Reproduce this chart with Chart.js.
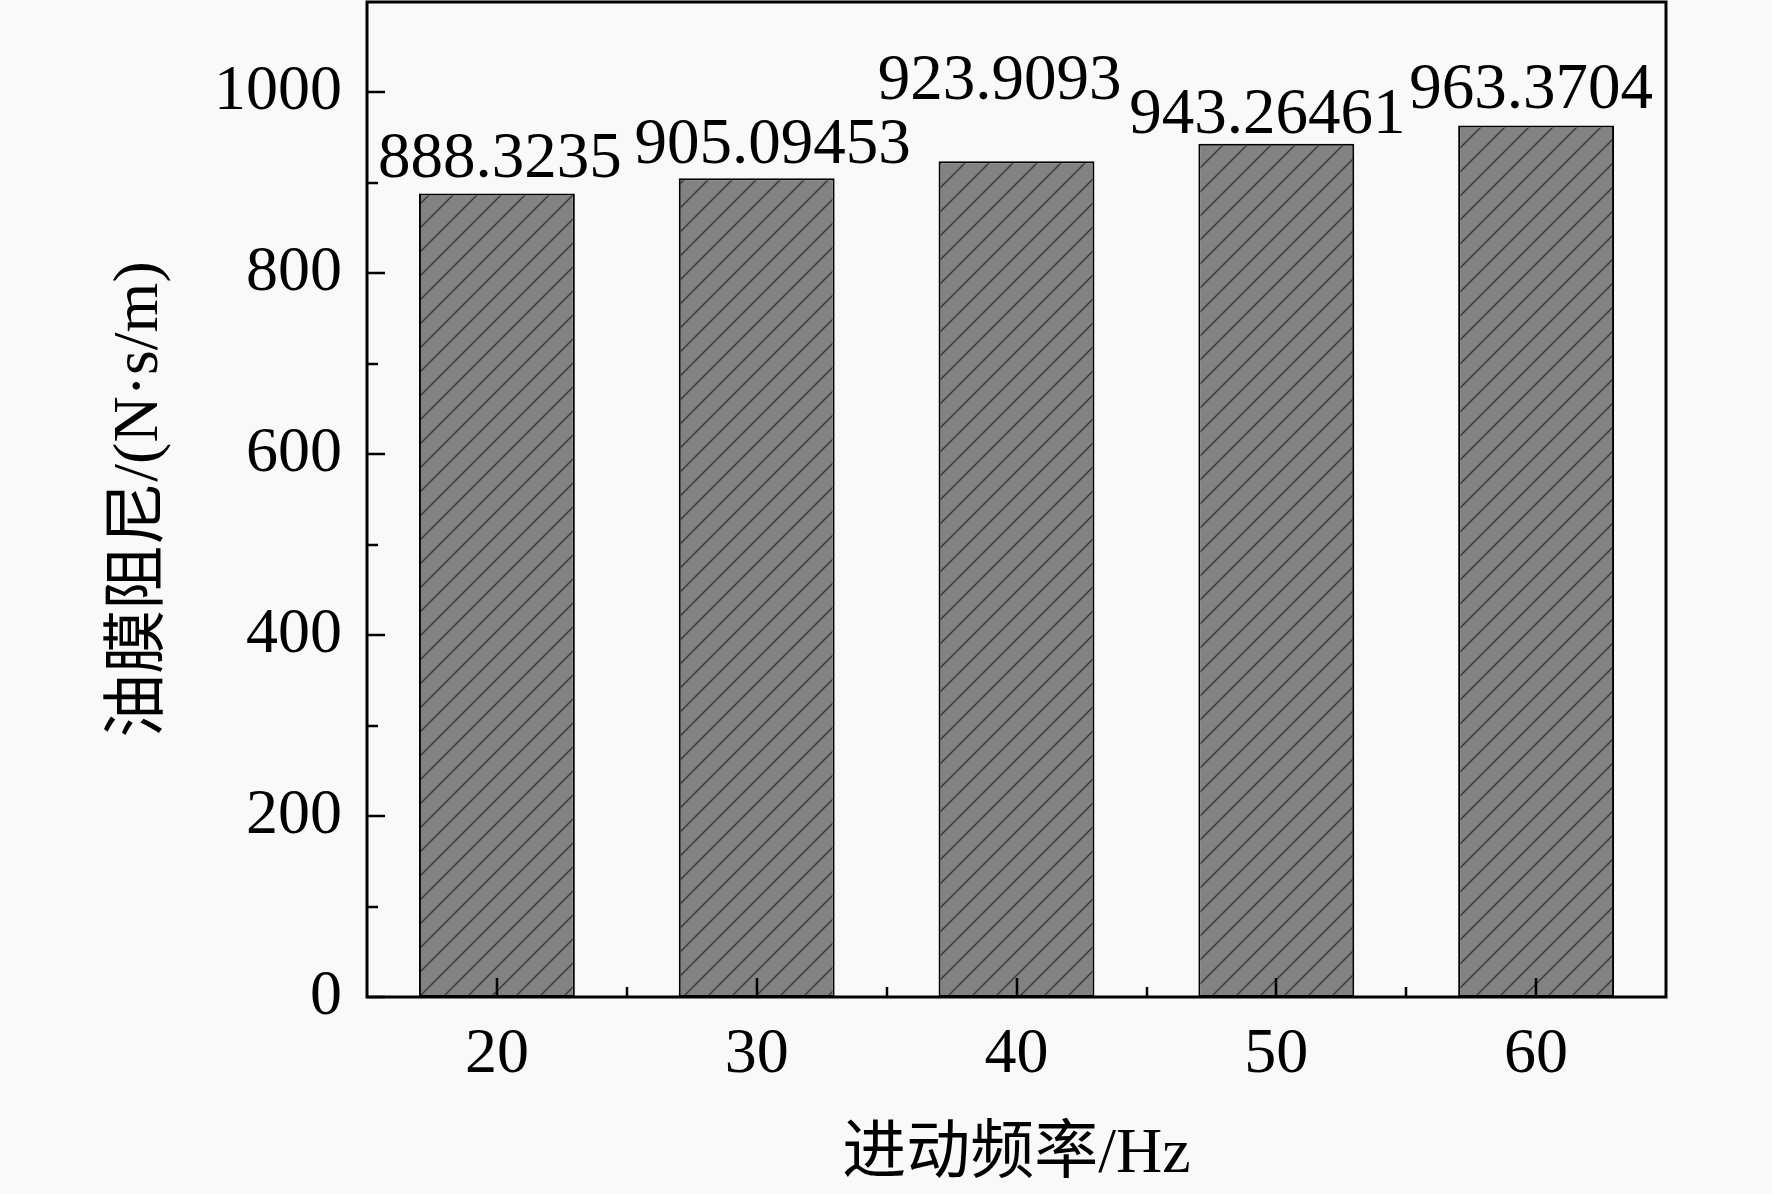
<!DOCTYPE html>
<html>
<head>
<meta charset="utf-8">
<script src="https://cdn.jsdelivr.net/npm/chart.js@4.4.1/dist/chart.umd.min.js"></script>
<style>
  html, body { margin: 0; padding: 0; background: #f9f9f9; }
  #wrap { width: 1772px; height: 1194px; }
</style>
</head>
<body>
<div id="wrap"><canvas id="myChart" width="1772" height="1194"></canvas></div>
<script>
(() => {
  'use strict'

  // Data
  const frequencies = ['20', '30', '40', '50', '60']
  const damping = [888.3235, 905.09453, 923.9093, 943.26461, 963.3704]
  const dampingLabels = ['888.3235', '905.09453', '923.9093', '943.26461', '963.3704']
  const yTicks = [0, 200, 400, 600, 800, 1000]

  // hand placed value labels in the original: [dx, gap above bar] in px
  const labelNudge = [[3, 16], [16, 15], [-17, 62], [-9, 11], [-5, 18]]

  const FONT = "'Liberation Serif', 'Noto Sans CJK SC', serif"

  // hatch fill for bars
  const tile = document.createElement('canvas')
  tile.width = 24
  tile.height = 24
  const tc = tile.getContext('2d')
  tc.fillStyle = '#828282'
  tc.fillRect(0, 0, 24, 24)
  tc.strokeStyle = '#363636'
  tc.lineWidth = 1.4
  tc.beginPath()
  tc.moveTo(-2, 26); tc.lineTo(26, -2)
  tc.moveTo(-14, 14); tc.lineTo(14, -14)
  tc.moveTo(10, 38); tc.lineTo(38, 10)
  tc.stroke()
  const hatch = document.getElementById('myChart').getContext('2d').createPattern(tile, 'repeat')

  const frameAndTicks = {
    id: 'frameAndTicks',
    afterDatasetsDraw (chart) {
      const { ctx, chartArea: a, scales: { x, y } } = chart
      ctx.save()
      ctx.strokeStyle = '#000'

      // y ticks, inward
      ctx.lineWidth = 2.5
      ctx.beginPath()
      yTicks.forEach((v, i) => {
        const py = Math.round(y.getPixelForValue(v))
        ctx.moveTo(a.left, py); ctx.lineTo(a.left + 18, py)
        const next = i < yTicks.length - 1 ? yTicks[i + 1] : v + (v - yTicks[i - 1])
        const my = Math.round(y.getPixelForValue((v + next) / 2))
        if (my > a.top + 4) { ctx.moveTo(a.left, my); ctx.lineTo(a.left + 11, my) }
      })
      // x ticks, inward
      frequencies.forEach((f, i) => {
        const px = Math.round(x.getPixelForValue(i))
        ctx.moveTo(px, a.bottom); ctx.lineTo(px, a.bottom - 19)
        if (i < frequencies.length - 1) {
          const mx = Math.round((px + x.getPixelForValue(i + 1)) / 2)
          ctx.moveTo(mx, a.bottom); ctx.lineTo(mx, a.bottom - 10)
        }
      })
      ctx.stroke()

      // box
      ctx.lineWidth = 3
      ctx.strokeRect(a.left, a.top, a.right - a.left, a.bottom - a.top)

      // value labels
      const meta = chart.getDatasetMeta(0)
      ctx.fillStyle = '#000'
      ctx.font = '65px ' + FONT
      ctx.textAlign = 'center'
      ctx.textBaseline = 'alphabetic'
      meta.data.forEach((bar, i) => {
        const [dx, gap] = labelNudge[i]
        ctx.fillText(dampingLabels[i], bar.x + dx, bar.y - gap)
      })
      ctx.restore()
    }
  }

  const ctx = document.getElementById('myChart')
  // eslint-disable-next-line no-unused-vars
  const myChart = new Chart(ctx, {
    type: 'bar',
    data: {
      labels: frequencies,
      datasets: [{
        data: damping,
        backgroundColor: hatch,
        borderColor: '#000',
        borderWidth: 2,
        borderSkipped: false,
        barPercentage: 0.6,
        categoryPercentage: 1.0
      }]
    },
    options: {
      responsive: false,
      animation: false,
      layout: { padding: { top: 2, right: 106, left: 0, bottom: 0 } },
      plugins: {
        legend: { display: false },
        tooltip: { enabled: false }
      },
      scales: {
        x: {
          grid: { display: false, drawTicks: false },
          border: { display: false },
          ticks: { font: { family: FONT, size: 64 }, color: '#000', padding: 20, maxRotation: 0 },
          title: {
            display: true,
            text: '进动频率/Hz',
            font: { family: FONT, size: 64 },
            color: '#000',
            padding: { top: 0, bottom: 0 }
          },
          afterFit (s) {
            s.height = 197
            s.paddingLeft = 0
            s.paddingRight = 0
          }
        },
        y: {
          min: 0,
          max: 1100,
          grid: { display: false, drawTicks: false },
          border: { display: false },
          ticks: {
            font: { family: FONT, size: 64 },
            color: '#000',
            padding: 25,
            callback: v => String(v)
          },
          afterBuildTicks (s) { s.ticks = yTicks.map(v => ({ value: v })) },
          title: {
            display: true,
            text: '油膜阻尼/(N·s/m)',
            font: { family: FONT, size: 64 },
            color: '#000',
            padding: { top: 102, bottom: 0 }
          },
          afterFit (s) {
            s.width = 367
            s.paddingTop = 0
            s.paddingBottom = 0
          }
        }
      }
    },
    plugins: [frameAndTicks]
  })
})()
</script>
</body>
</html>
